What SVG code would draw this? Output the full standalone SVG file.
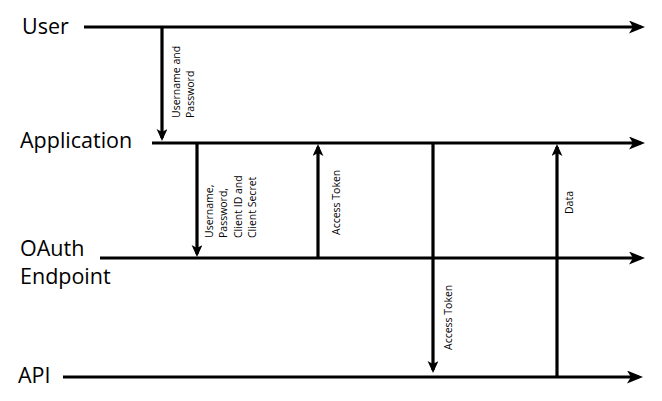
<svg xmlns="http://www.w3.org/2000/svg" width="662" height="401" viewBox="0 0 662 401">
<style>
.lane{stroke:#000;stroke-width:3.2;fill:none}
.msg{stroke:#000;stroke-width:3.2;fill:none}
.name{font-family:"Open Sans","Liberation Sans",sans-serif;font-size:21.5px;fill:#000}
.lbl{font-family:"Open Sans","Liberation Sans",sans-serif;font-size:10.5px;fill:#000}
</style>
<defs>
<marker id="ah" markerUnits="userSpaceOnUse" markerWidth="18" markerHeight="16" refX="12" refY="6.5" orient="auto">
<path d="M0,0 L16,6.5 L0,13 L4,6.5 z" fill="#000"/>
</marker>
<marker id="av" markerUnits="userSpaceOnUse" markerWidth="14" markerHeight="12" refX="9" refY="5.4" orient="auto">
<path d="M0,0 L12,5.4 L0,10.8 L3,5.4 z" fill="#000"/>
</marker>
</defs>
<g id="user">
<text class="name" x="22" y="34">User</text>
</g>
<g id="application">
<text class="name" x="20" y="148">Application</text>
</g>
<g id="oauth">
<text class="name" x="20" y="256">OAuth</text>
<text class="name" x="20" y="284">Endpoint</text>
</g>
<g id="api">
<text class="name" x="18" y="383">API</text>
</g>
<g id="connectors">
<path class="lane" d="M84,27 H641" marker-end="url(#ah)"/>
<path class="lane" d="M152,143 H641" marker-end="url(#ah)"/>
<path class="lane" d="M100,258 H641" marker-end="url(#ah)"/>
<path class="lane" d="M63,377 H639" marker-end="url(#ah)"/>
<path class="msg" d="M162,27 V138" marker-end="url(#av)"/>
<path class="msg" d="M197,143 V254" marker-end="url(#av)"/>
<path class="msg" d="M318,258 V147" marker-end="url(#av)"/>
<path class="msg" d="M433,143 V370" marker-end="url(#av)"/>
<path class="msg" d="M557,377 V147" marker-end="url(#av)"/>
</g>
<g id="labels">
<text class="lbl" transform="translate(180,118) rotate(-90)"><tspan x="0" y="0">Username and</tspan><tspan x="0" dy="14">Password</tspan></text>
<text class="lbl" transform="translate(213,238) rotate(-90)"><tspan x="0" y="0">Username,</tspan><tspan x="0" dy="14.3">Password,</tspan><tspan x="0" dy="14.3">Client ID and</tspan><tspan x="0" dy="14.3">Client Secret</tspan></text>
<text class="lbl" transform="translate(340,235) rotate(-90)">Access Token</text>
<text class="lbl" transform="translate(452,350) rotate(-90)">Access Token</text>
<text class="lbl" transform="translate(573,214) rotate(-90)">Data</text>
</g>
</svg>
